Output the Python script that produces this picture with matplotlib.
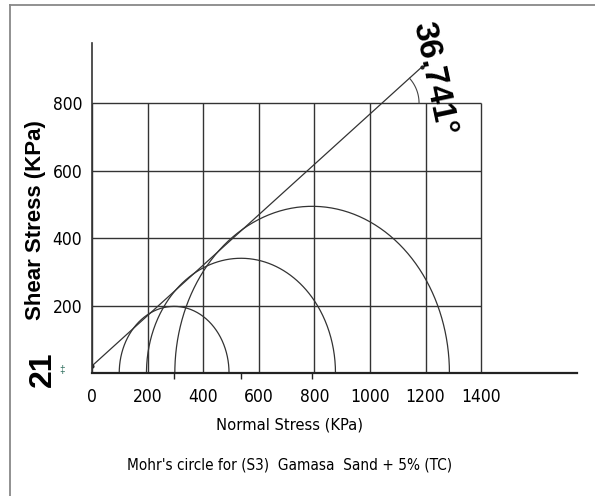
import numpy as np
import matplotlib.pyplot as plt
from matplotlib.lines import Line2D
from matplotlib import font_manager as fm

# Mohr circle test data (KPa)
sigma3 = [98, 196, 298]
sigma1 = [493, 876, 1286]
cohesion = 21
phi = 36.741
env_end = 1188

grid_x = [0, 200, 400, 600, 800, 1000, 1200, 1400]
grid_y = [200, 400, 600, 800]
xtick_labels = ["0", "200", "400", "600", "800", "1000", "1200", "1400"]
ytick_labels = ["200", "400", "600", "800"]

# look for a narrow sans face, the original text is condensed
entries = fm.fontManager.ttflist
narrow_font = dict(family=['Liberation Sans', 'DejaVu Sans'])
scale = 1.0
if any(f.name == 'Liberation Sans Narrow' for f in entries):
    narrow_font = dict(family=['Liberation Sans Narrow', 'DejaVu Sans'])
    scale = 1.15
elif any(f.name == 'DejaVu Sans' and 'condensed' in str(f.stretch) for f in entries):
    narrow_font = dict(family=['DejaVu Sans'], stretch='condensed')
    scale = 1.0
wide = ['Liberation Sans', 'DejaVu Sans']

W, H = 595, 496
fig = plt.figure(figsize=(W / 100, H / 100), dpi=100)
fig.patch.set_facecolor('white')
ax = fig.add_axes([92 / W, 123 / H, 485 / W, 330 / H])
xmax, ymax = 1745, 978
ax.set_xlim(0, xmax)
ax.set_ylim(0, ymax)

# grid box
for g in grid_x:
    ax.vlines(g, 0, grid_y[-1], color='#333333', lw=1.0)
for g in grid_y:
    ax.hlines(g, 0, grid_x[-1], color='#333333', lw=1.0)

# circles
t = np.linspace(0, np.pi, 300)
centers = []
for s3, s1 in zip(sigma3, sigma1):
    c = (s1 + s3) / 2
    r = (s1 - s3) / 2
    centers.append(c)
    ax.plot(c + r * np.cos(t), r * np.sin(t), color='#333333', lw=0.9)

# failure envelope
tanphi = np.tan(np.radians(phi))
ex = np.array([0, env_end])
ax.plot(ex, cohesion + tanphi * ex, color='#333333', lw=0.9)
ax.plot(ex, cohesion + tanphi * ex, 'o', color='#222222', ms=2)

# angle arc at the 800 line
x0 = (grid_y[-1] - cohesion) / tanphi
sx = 485 / xmax
sy = 330 / ymax
rpx = 37
tt = np.linspace(0, np.arctan(tanphi * sy / sx), 50)
ax.plot(x0 + rpx / sx * np.cos(tt), grid_y[-1] + rpx / sy * np.sin(tt),
        color='#444444', lw=0.8)

ax.spines['top'].set_visible(False)
ax.spines['right'].set_visible(False)
ax.spines['left'].set_linewidth(1.2)
ax.spines['bottom'].set_linewidth(1.6)
ax.spines['left'].set_color('#333333')
ax.spines['bottom'].set_color('#222222')

ax.set_xticks(grid_x)
ax.set_xticklabels(xtick_labels, fontsize=12.5 * scale, **narrow_font)
ax.set_yticks(grid_y)
ax.set_yticklabels(ytick_labels, fontsize=12.5 * scale, **narrow_font)
ax.tick_params(axis='x', length=0, pad=11)
ax.tick_params(axis='y', length=0, pad=7)
ax.set_xticks(centers, minor=True)
ax.tick_params(axis='x', which='minor', length=4, width=1, color='#222222')

ax.set_xlabel("Normal Stress (KPa)", fontsize=11.8 * scale, **narrow_font)
ax.xaxis.set_label_coords((289 - 92) / 485, -(425 - 373) / 330)
ax.xaxis.label.set_va('center')
ax.set_ylabel("Shear Stress (KPa)", family=wide, fontsize=16,
              fontweight='bold')
ax.yaxis.set_label_coords((36 - 92) / 485, (373 - 220) / 330)
ax.yaxis.label.set_va('center')

fig.text(290 / W, 1 - 465 / H, "Mohr's circle for (S3)  Gamasa  Sand + 5% (TC)",
         fontsize=11 * scale, ha='center', va='center', **narrow_font)

fig.text(434 / W, 1 - 79 / H, "36.741°", family=wide, fontsize=24,
         fontweight='bold', rotation=-78, ha='center', va='center',
         rotation_mode='anchor')
fig.text(43 / W, 1 - 369 / H, str(cohesion), family=wide, fontsize=23,
         fontweight='bold', rotation=90, ha='center', va='center')
fig.text(62 / W, 1 - 370 / H, "‡", family=wide, fontsize=7,
         color='#2a6b5a', ha='center', va='center')

# outer frame (left and top edges visible)
fig.add_artist(Line2D([10 / W, 10 / W], [0, 1 - 5 / H], color='#888888', lw=1.3))
fig.add_artist(Line2D([10 / W, 1], [1 - 5 / H, 1 - 5 / H], color='#888888', lw=1.3))

fig.savefig('out.png', dpi=100)
